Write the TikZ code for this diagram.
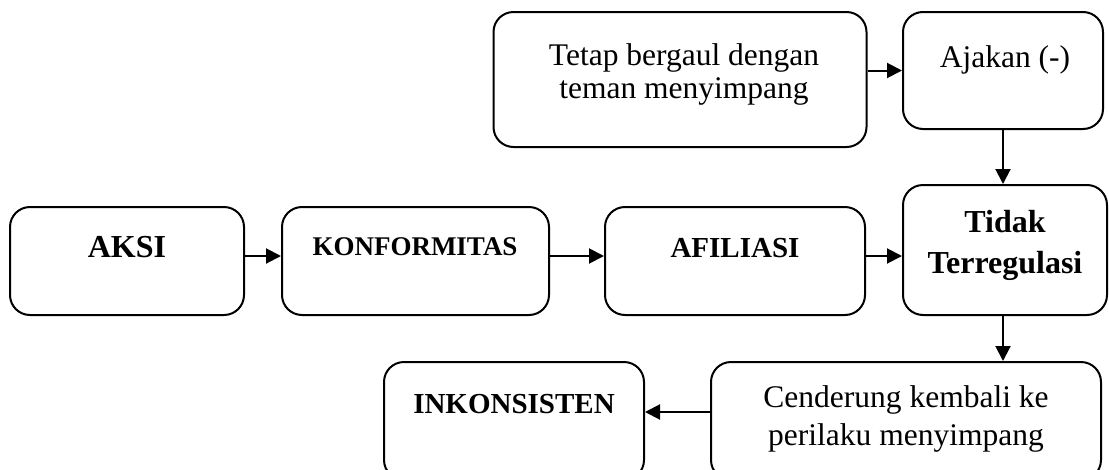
\documentclass[tikz,border=0pt]{standalone}
\usepackage{fontspec}
\setmainfont{Liberation Serif}
\usetikzlibrary{arrows.meta}
\begin{document}
\begin{tikzpicture}[x=1pt,y=-1pt,
  box/.style={draw, line width=2pt, rounded corners=20pt, inner sep=0pt},
  arr/.style={line width=2pt, -{Triangle[length=15pt,width=15pt]}},
  txt/.style={anchor=base, inner sep=0pt, font=\fontsize{31.5}{36}\selectfont},
  btxt/.style={anchor=base, inner sep=0pt, font=\fontsize{32}{36}\selectfont\bfseries},
  bsmall/.style={btxt, font=\fontsize{29}{34}\selectfont\bfseries}]
\useasboundingbox (0,0) rectangle (1109,469);

% boxes
\node[box, minimum width=373pt, minimum height=135pt] (tetap)  at (680,79.5)  {};
\node[box, minimum width=200pt, minimum height=117pt] (ajakan) at (1003,70.5) {};
\node[box, minimum width=234pt, minimum height=108pt] (aksi)   at (127,261) {};
\node[box, minimum width=267pt, minimum height=108pt] (konf)   at (415.5,261) {};
\node[box, minimum width=260pt, minimum height=108pt] (afil)   at (735,261) {};
\node[box, minimum width=204pt, minimum height=130pt] (tidak)  at (1005,250) {};
\node[box, minimum width=260pt, minimum height=118pt] (inkon)  at (514,421) {};
\node[box, minimum width=390pt, minimum height=118pt] (cend)   at (906,421) {};

% labels
\node[txt] (t1) at (684,65)  {Tetap bergaul dengan};
\node[txt] (t2) at (684,98)  {teman menyimpang};
\node[txt] (a1) at (1005,67) {Ajakan (-)};
\node[btxt] (k1) at (127,257) {AKSI};
\node[btxt, font=\fontsize{27}{32}\selectfont\bfseries] (f1) at (415,255) {KONFORMITAS};
\node[bsmall] (l1) at (735,257) {AFILIASI};
\node[btxt] (r1) at (1005,232) {Tidak};
\node[btxt] (r2) at (1005,273) {Terregulasi};
\node[bsmall] (i1) at (514,413) {INKONSISTEN};
\node[txt] (c1) at (906,407) {Cenderung kembali ke};
\node[txt] (c2) at (906,445) {perilaku menyimpang};

% connectors
\draw[arr] (tetap.east |- ajakan.center) -- (ajakan.west);
\draw[arr] ([yshift=5pt]aksi.east) -- ([yshift=5pt]konf.west);
\draw[arr] ([yshift=5pt]konf.east) -- ([yshift=5pt]afil.west);
\draw[arr] ([yshift=5pt]afil.east) -- ([yshift=5pt]afil.east -| tidak.west);
\draw[arr] (ajakan.south) -- (ajakan.south |- tidak.north);
\draw[arr] (tidak.south -| ajakan.south) -- (ajakan.south |- cend.north);
\draw[arr] ([yshift=9pt]cend.west) -- ([yshift=9pt]inkon.east);
\end{tikzpicture}
\end{document}
